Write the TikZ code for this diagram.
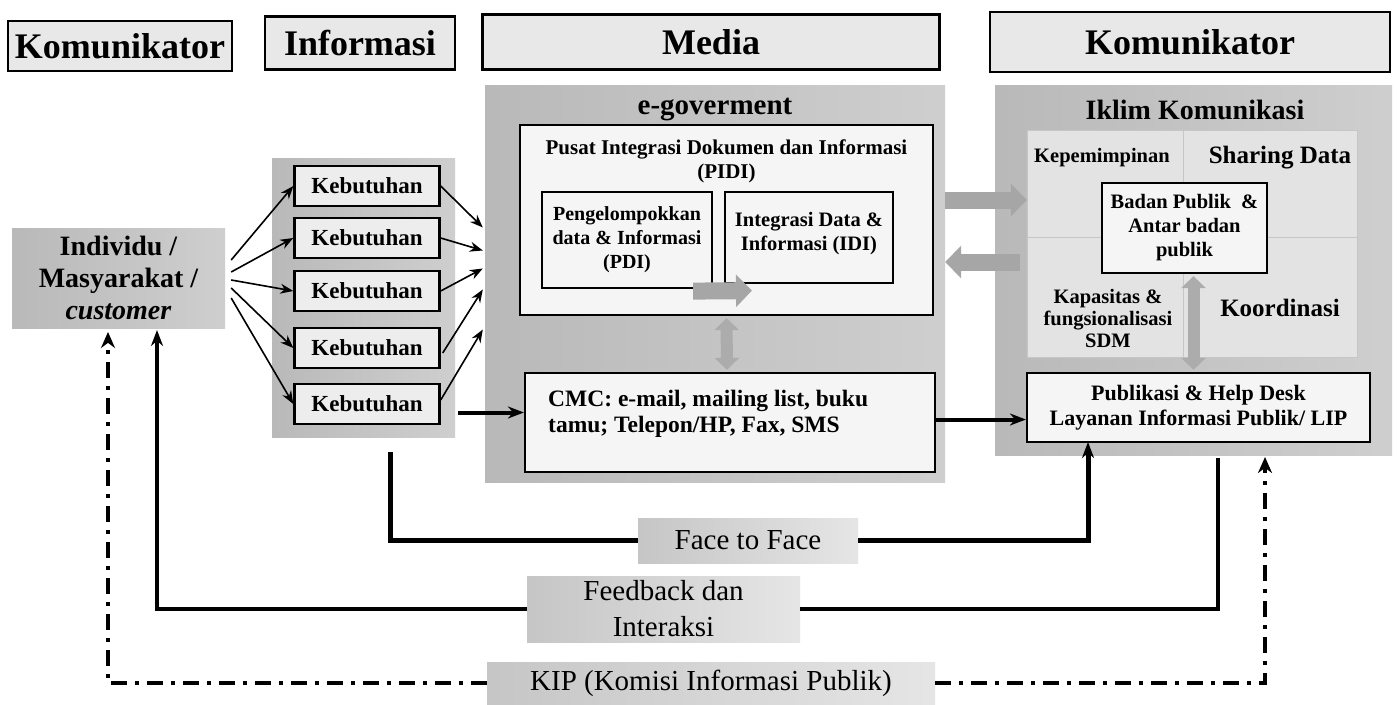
\documentclass[tikz,border=0pt]{standalone}
\usepackage{fontspec}
\setmainfont{Liberation Serif}
\usetikzlibrary{arrows.meta,calc}
\begin{document}
\begin{tikzpicture}[x=1pt,y=-1pt,
  hdr/.style={draw=black,line width=2.2pt,fill=gray!18,inner sep=0pt,font=\bfseries\fontsize{36}{38}\selectfont},
  panel/.style={left color=gray!55,right color=gray!38,inner sep=0pt},
  quad/.style={draw=gray!45,line width=0.8pt,fill=gray!22,inner sep=0pt},
  wbox/.style={draw=black,line width=2.2pt,fill=gray!8,inner sep=0pt},
  kb/.style={draw=black,line width=2.4pt,fill=gray!14,minimum width=145pt,minimum height=40pt,inner sep=0pt,font=\bfseries\fontsize{23}{25}\selectfont},
  lbl/.style={left color=gray!45,right color=gray!20,inner sep=0pt,align=center,font=\fontsize{29}{36}\selectfont},
  txt/.style={align=center,inner sep=0pt,font=\bfseries\fontsize{20.5}{24}\selectfont},
  arr/.style={line width=1.6pt,-{Stealth[length=13pt,width=10pt]}},
  thk/.style={line width=4pt,-{Stealth[length=16pt,width=12pt]}},
  fat/.style={line width=17pt,gray!70,-{Triangle[length=16pt,width=32pt]}},
  fatd/.style={line width=12pt,gray!65,{Triangle[length=12pt,width=24pt]}-{Triangle[length=12pt,width=24pt]}},
  dd/.style={line width=4.5pt,dash pattern=on 16pt off 8pt on 4pt off 8pt},
]
\useasboundingbox (0,0) rectangle (1397,704);
\fill[white] (0,0) rectangle (1397,704);
% headers
\node[hdr,minimum width=224pt,minimum height=50pt] (h1) at (120,46) {Komunikator};
\node[hdr,minimum width=190pt,minimum height=53pt] (h2) at (360,43) {Informasi};
\node[hdr,minimum width=457pt,minimum height=55pt] (h3) at (711,42) {Media};
\node[hdr,minimum width=400pt,minimum height=60pt] (h4) at (1190,42) {Komunikator};
% individu
\node[panel,minimum width=213pt,minimum height=100pt,align=center,font=\bfseries\fontsize{28}{32}\selectfont] (indiv) at (118.5,278) {Individu /\\Masyarakat /\\\textit{customer}};
% kebutuhan
\node[panel,minimum width=183pt,minimum height=279pt] (kpanel) at (363.5,297.5) {};
\node[kb] (k1) at (367,186) {Kebutuhan};
\node[kb] (k2) at (367,238) {Kebutuhan};
\node[kb] (k3) at (367,291) {Kebutuhan};
\node[kb] (k4) at (367,348) {Kebutuhan};
\node[kb] (k5) at (367,404) {Kebutuhan};
% e-gov
\node[panel,minimum width=460pt,minimum height=397pt] (egov) at (715,283.5) {};
\node[txt,font=\bfseries\fontsize{29}{32}\selectfont] (egovt) at (715,110) {e-goverment};
\node[wbox,minimum width=413pt,minimum height=190pt] (pidi) at (726.5,220) {};
\node[txt,font=\bfseries\fontsize{21}{24}\selectfont] (pidit) at (726.5,161) {Pusat Integrasi Dokumen dan Informasi\\(PIDI)};
\node[wbox,minimum width=170pt,minimum height=96pt,txt,font=\bfseries\fontsize{20}{24}\selectfont] (pdi) at (627,240) {Pengelompokkan\\data \& Informasi\\(PDI)};
\node[wbox,minimum width=168pt,minimum height=91pt,txt] (idi) at (809,237.5) {};
\node[txt,anchor=north] (idit) at (809,212) {Integrasi Data \&\\Informasi (IDI)};
\node[wbox,minimum width=410pt,minimum height=99pt] (cmc) at (730,422.5) {};
\node[txt,align=left,anchor=west,font=\bfseries\fontsize{23.5}{26}\selectfont] (cmct) at (548,414) {CMC: e-mail, mailing list, buku\\tamu; Telepon/HP, Fax, SMS};
% iklim
\node[panel,minimum width=397pt,minimum height=370pt] (iklim) at (1193.5,270) {};
\node[txt,font=\bfseries\fontsize{28}{30}\selectfont] (iklimt) at (1195,110) {Iklim Komunikasi};
\node[quad,minimum width=156pt,minimum height=107pt] (q1) at (1105,183.5) {};
\node[quad,minimum width=174pt,minimum height=107pt] (q2) at (1270,183.5) {};
\node[quad,minimum width=156pt,minimum height=120pt] (q3) at (1105,297) {};
\node[quad,minimum width=174pt,minimum height=120pt] (q4) at (1270,297) {};
\node[txt] (q1t) at (1102,158) {Kepemimpinan};
\node[txt,font=\bfseries\fontsize{25}{28}\selectfont] (q2t) at (1280,158) {Sharing Data};
\node[txt,font=\bfseries\fontsize{20.5}{22}\selectfont] (q3t) at (1108,318) {Kapasitas \&\\fungsionalisasi\\SDM};
\node[txt,font=\bfseries\fontsize{25}{28}\selectfont] (q4t) at (1280,308) {Koordinasi};
\node[wbox,minimum width=165pt,minimum height=90pt,txt,font=\bfseries\fontsize{20.5}{24}\selectfont] (badan) at (1184.5,228) {Badan Publik \ \&\\Antar badan\\publik};
\node[wbox,minimum width=343pt,minimum height=69pt,txt,font=\bfseries\fontsize{22}{25}\selectfont] (pub) at (1198.5,407.5) {Publikasi \& Help Desk\\Layanan Informasi Publik/ LIP};
% bottom labels
\node[lbl,minimum width=220pt,minimum height=45pt] (ftf) at (748,540.5) {Face to Face};
\node[lbl,minimum width=273pt,minimum height=66pt] (fb) at (663.5,609) {Feedback dan\\Interaksi};
\node[lbl,minimum width=448pt,minimum height=42pt] (kip) at (711,683) {KIP (Komisi Informasi Publik)};
% individu -> kebutuhan
\draw[arr] ($(indiv.east)+(6,-18)$) -- (k1.west);
\draw[arr] ($(indiv.east)+(6,-6)$) -- (k2.west);
\draw[arr] ($(indiv.east)+(6,2)$) -- (k3.west);
\draw[arr] ($(indiv.east)+(6,10)$) -- (k4.west);
\draw[arr] ($(indiv.east)+(6,20)$) -- (k5.west);
% kebutuhan -> egov
\draw[arr] (k1.east) -- ($(egov.west)+(-2,-56)$);
\draw[arr] (k2.east) -- ($(egov.west)+(-2,-33)$);
\draw[arr] (k3.east) -- ($(egov.west)+(-2,-15)$);
\draw[arr] ($(k4.east)+(2,5)$) -- ($(egov.west)+(-2,6)$);
\draw[arr] ($(k5.east)+(0,-4)$) -- ($(egov.west)+(-2,46)$);
% fat arrows
\draw[fat] ($(pdi.south east)+(-20,2)$) -- ($(idi.south west)+(28,6.5)$);
\draw[fatd] ($(pidi.south)+(0,2)$) -- ($(cmc.north)+(-3,-2)$);
\draw[fatd] ($(badan.south)+(9,2)$) -- ($(pub.north)+(-5,-2)$);
\draw[fat] ($(egov.east)+(0,-83.5)$) -- ($(iklim.west)+(32,-70)$);
\draw[fat] ($(iklim.west)+(25,-8)$) -- ($(egov.east)+(0,-21.5)$);
% kebutuhan -> cmc -> pub
\draw[thk] (kpanel.east |- cmc.west) ++(3,-10) -- ($(cmc.west)+(0,-10)$);
\draw[thk] ($(cmc.east)+(0,-3)$) -- ($(pub.west)+(0,12)$);
% face to face
\coordinate (fs) at (390,452);
\draw[line width=5pt] (fs) |- (ftf.west);
\draw[thk,line width=5pt] (ftf.east) -| (1088,442);
% feedback
\coordinate (fbs) at (1218,458);
\draw[line width=3.5pt] (fbs) |- (fb.east);
\draw[thk,line width=3.5pt] (fb.west) -| (157,330);
% KIP
\draw[dd,-{Stealth[length=16pt,width=14pt]}] (kip.west) -| (108,332);
\draw[dd,-{Stealth[length=16pt,width=14pt]}] (kip.east) -| (1265,457);
\end{tikzpicture}
\end{document}
